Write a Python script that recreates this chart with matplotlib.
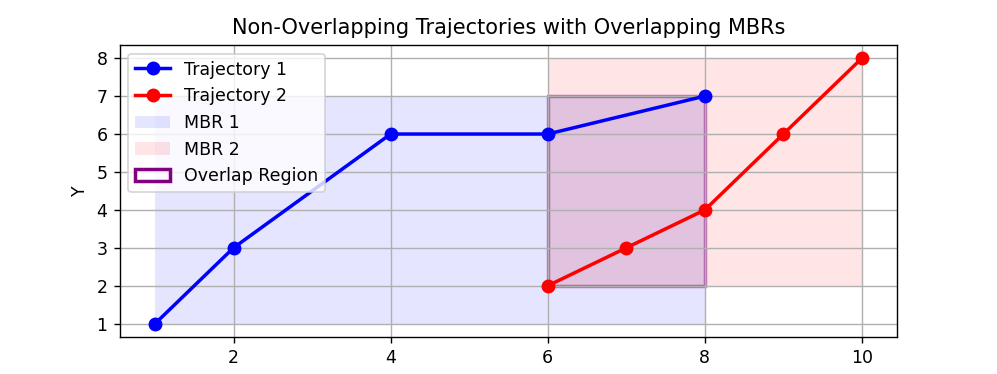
import matplotlib
matplotlib.use('Agg')
import matplotlib.pyplot as plt
from matplotlib.patches import Rectangle, Patch
from matplotlib.lines import Line2D

# trajectory data
traj1_x = [1, 2, 4, 6, 8]
traj1_y = [1, 3, 6, 6, 7]
traj2_x = [6, 7, 8, 9, 10]
traj2_y = [2, 3, 4, 6, 8]

# MBRs (xmin, ymin, xmax, ymax)
mbr1 = [1, 1, 8, 7]
mbr2 = [6, 2, 10, 8]
overlap = [max(mbr1[0], mbr2[0]), max(mbr1[1], mbr2[1]),
           min(mbr1[2], mbr2[2]), min(mbr1[3], mbr2[3])]

fig, ax = plt.subplots(figsize=(997 / 125, 374 / 125), dpi=125)
fig.subplots_adjust(left=0.120, right=0.900, top=0.880, bottom=0.099)

ax.plot(traj1_x, traj1_y, 'o-', color='blue', linewidth=2, markersize=7, label='Trajectory 1')
ax.plot(traj2_x, traj2_y, 'o-', color='red', linewidth=2, markersize=7, label='Trajectory 2')

ax.add_patch(Rectangle((mbr1[0], mbr1[1]), mbr1[2] - mbr1[0], mbr1[3] - mbr1[1],
                       facecolor='blue', alpha=0.1, edgecolor='none', zorder=0.8))
ax.add_patch(Rectangle((mbr2[0], mbr2[1]), mbr2[2] - mbr2[0], mbr2[3] - mbr2[1],
                       facecolor='red', alpha=0.1, edgecolor='none', zorder=0.8))
ax.add_patch(Rectangle((overlap[0], overlap[1]), overlap[2] - overlap[0], overlap[3] - overlap[1],
                       facecolor=(0.5, 0, 0.5, 0.05), edgecolor=(0.5, 0, 0.5, 0.5),
                       linewidth=2, zorder=0.9))

handles = [
    Line2D([], [], color='blue', marker='o', linewidth=2, markersize=7),
    Line2D([], [], color='red', marker='o', linewidth=2, markersize=7),
    Patch(facecolor='blue', alpha=0.1),
    Patch(facecolor='red', alpha=0.1),
    Patch(facecolor='none', edgecolor='purple', linewidth=2),
]
labels = ['Trajectory 1', 'Trajectory 2', 'MBR 1', 'MBR 2', 'Overlap Region']
ax.legend(handles, labels, loc='upper left')

ax.set_title('Non-Overlapping Trajectories with Overlapping MBRs')
ax.set_xlabel('X')
ax.set_ylabel('Y')
ax.grid(True)
ax.autoscale_view()

plt.savefig('out.png', dpi=125)
